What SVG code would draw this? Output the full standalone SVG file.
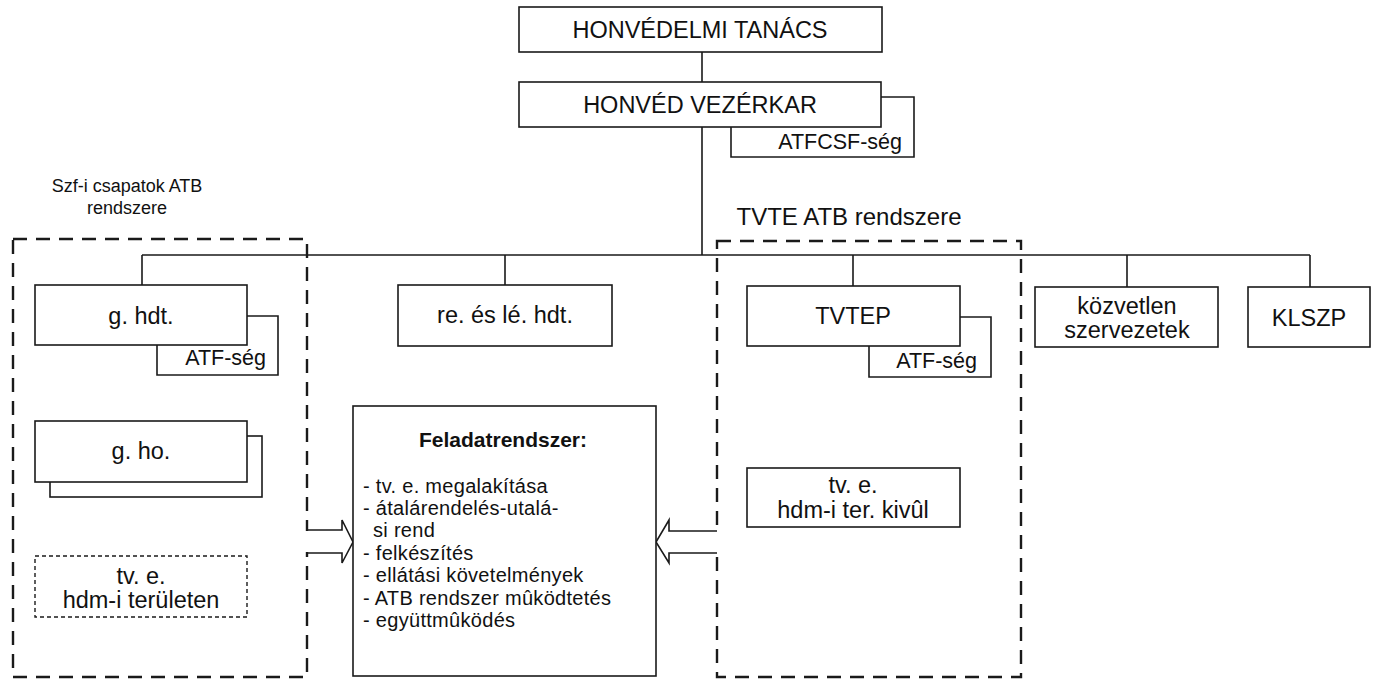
<svg xmlns="http://www.w3.org/2000/svg" width="1373" height="680" viewBox="0 0 1373 680">
<style>
.box{fill:#fff;stroke:#1a1a1a;stroke-width:1.6}
.ln{fill:none;stroke:#1a1a1a;stroke-width:1.6}
.grp{fill:none;stroke:#1a1a1a;stroke-width:2.4;stroke-dasharray:14 9}
.fine{fill:#fff;stroke:#1a1a1a;stroke-width:1.4;stroke-dasharray:4 3}
text{font-family:"Liberation Sans",Arial,sans-serif;fill:#111}
.t{font-size:23.5px;text-anchor:middle}
.s{font-size:21.5px}
.e{text-anchor:end}
.c{text-anchor:middle}
.lab{font-size:18px;text-anchor:middle}
.list{font-size:20px;letter-spacing:0.3px}
.b{font-weight:bold;font-size:21px;letter-spacing:0}
</style>
<rect width="1373" height="680" fill="#fff"/>
<g id="groups">
<rect class="grp" x="13" y="239" width="294" height="438"/>
<rect class="grp" x="717" y="241" width="304" height="436"/>
<text class="lab" x="127" y="192">Szf-i csapatok ATB</text>
<text class="lab" x="127" y="214">rendszere</text>
<text class="t" x="849" y="225" style="font-size:24px">TVTE ATB rendszere</text>
</g>
<g id="connectors">
<path class="ln" d="M702,52 V82 M702,127 V255 M142,255 H1310 M142,255 V285 M505,255 V285 M853,255 V286 M1127,255 V287 M1310,255 V287"/>
<path d="M305,531 H342 V552 H305 Z M719,533 H669 V552 H719 Z" fill="#fff"/>
<path class="ln" d="M307,530 H342 V520 L353,542 L342,563 V553 H307"/>
<path class="ln" d="M717,531 H669 V520 L656,542 L669,563 V553 H717"/>
</g>
<g id="n-tanacs">
<rect class="box" x="519" y="7" width="363" height="45"/>
<text class="t" x="700" y="38">HONVÉDELMI TANÁCS</text>
</g>
<g id="n-vezerkar">
<path class="ln" d="M881,97 H914 V157 H731 V127"/>
<rect class="box" x="519" y="82" width="362" height="45"/>
<text class="t" x="700" y="113">HONVÉD VEZÉRKAR</text>
<text class="s e" x="902" y="149">ATFCSF-ség</text>
</g>
<g id="n-ghdt">
<path class="ln" d="M247,316 H278 V375 H157 V345"/>
<rect class="box" x="35" y="285" width="212" height="60"/>
<text class="t" x="141" y="324">g. hdt.</text>
<text class="s e" x="266" y="365">ATF-ség</text>
</g>
<g id="n-gho">
<rect class="box" x="50" y="436" width="212" height="61"/>
<rect class="box" x="35" y="421" width="212" height="61"/>
<text class="t" x="141" y="459">g. ho.</text>
</g>
<g id="n-tve-hdm">
<rect class="fine" x="35" y="556" width="212" height="61"/>
<text class="t" x="141" y="584">tv. e.</text>
<text class="t" x="141" y="608">hdm-i területen</text>
</g>
<g id="n-rele">
<rect class="box" x="398" y="285" width="214" height="61"/>
<text class="t" x="505" y="323">re. és lé. hdt.</text>
</g>
<g id="n-feladat">
<rect class="box" x="353" y="406" width="303" height="270"/>
<text class="list b c" x="503" y="447">Feladatrendszer:</text>
<text class="list" x="363" y="492.5">- tv. e. megalakítása</text>
<text class="list" x="363" y="514.9">- átalárendelés-utalá-</text>
<text class="list" x="373" y="537.3">si rend</text>
<text class="list" x="363" y="559.7">- felkészítés</text>
<text class="list" x="363" y="582.1">- ellátási követelmények</text>
<text class="list" x="363" y="604.5">- ATB rendszer mûködtetés</text>
<text class="list" x="363" y="626.9">- együttmûködés</text>
</g>
<g id="n-tvtep">
<path class="ln" d="M960,317 H991 V377 H869 V346"/>
<rect class="box" x="747" y="286" width="213" height="60"/>
<text class="t" x="853" y="324">TVTEP</text>
<text class="s e" x="977" y="368">ATF-ség</text>
</g>
<g id="n-tve-kivul">
<rect class="box" x="747" y="468" width="213" height="59"/>
<text class="t" x="853" y="493">tv. e.</text>
<text class="t" x="853" y="518">hdm-i ter. kivûl</text>
</g>
<g id="n-kozvetlen">
<rect class="box" x="1035" y="287" width="183" height="60"/>
<text class="t" x="1127" y="314">közvetlen</text>
<text class="t" x="1127" y="338">szervezetek</text>
</g>
<g id="n-klszp">
<rect class="box" x="1248" y="287" width="122" height="60"/>
<text class="t" x="1309" y="326">KLSZP</text>
</g>
</svg>
